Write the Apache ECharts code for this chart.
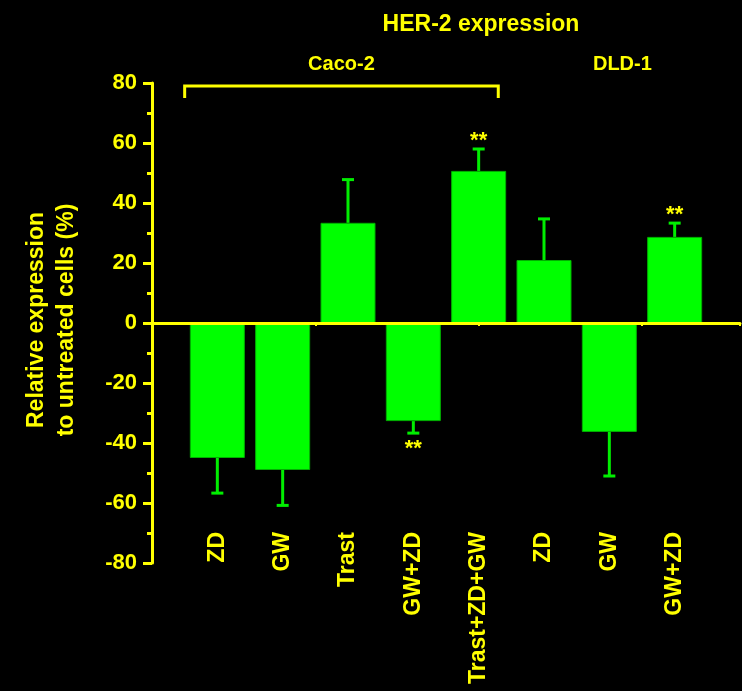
<!DOCTYPE html>
<html>
<head>
<meta charset="utf-8">
<script src="https://cdn.jsdelivr.net/npm/echarts@6/dist/echarts.min.js"></script>
<style>
  html, body { margin: 0; padding: 0; background: #000; }
  #chart { width: 742px; height: 691px; }
</style>
</head>
<body>
<div id="chart"></div>
<script>
// Treatments, in plotting order (Caco-2 first five, DLD-1 last three)
const categories = ['ZD', 'GW', 'Trast', 'GW+ZD', 'Trast+ZD+GW', 'ZD', 'GW', 'GW+ZD'];
// Mean change in HER-2 expression vs untreated cells (%)
const means = [-45, -49, 33.4, -32.7, 50.7, 21, -36.3, 28.7];
// Error bar half-lengths (%)
const errors = [11.7, 11.8, 14.4, 4.0, 7.3, 13.7, 14.7, 4.6];
// Significance markers
const significance = ['', '', '', '**', '**', '', '', '**'];
// Cell line group labels and their x positions on the axis
const cellLines = ['Caco-2', 'DLD-1'];
const cellLineX = [2.9, 7.2];
const cellLineY = 86.3;
// Bracket over the Caco-2 treatments: [x from, x to, y top, y leg end]
const bracket = [0.5, 5.3, 79, 75];

const YELLOW = '#ffff00';
const GREEN = '#00ff00';
const FONT = 'Arial, "Liberation Sans", sans-serif';

const chart = echarts.init(document.getElementById('chart'));

const barData = means.map((v, i) => [i + 1, v]);
const errData = means.map((v, i) => [i + 1, v, errors[i], significance[i]]);

const option = {
  backgroundColor: '#000',
  animation: false,
  title: {
    text: 'HER-2 expression',
    left: 476,
    textAlign: 'center',
    top: 8,
    textStyle: { color: YELLOW, fontSize: 23, fontWeight: 'bold', fontFamily: FONT }
  },
  grid: { left: 152, right: 2, top: 83, bottom: 128 },
  xAxis: [
    {
      type: 'value', min: 0, max: 9, interval: 2.5, z: 10,
      axisLine: { onZero: true, lineStyle: { color: YELLOW, width: 3 } },
      axisTick: { show: true, length: 3, lineStyle: { color: YELLOW, width: 2 } },
      axisLabel: { show: false },
      splitLine: { show: false }
    },
    {
      type: 'value', min: 0, max: 9, interval: 1, position: 'bottom', offset: -31,
      axisLine: { show: false, onZero: false },
      axisTick: { show: false },
      splitLine: { show: false },
      axisLabel: {
        rotate: 90, margin: 0, color: YELLOW, fontSize: 23, fontWeight: 'bold', fontFamily: FONT,
        formatter: v => (v >= 1 && v <= categories.length && Number.isInteger(v)) ? categories[v - 1] : ''
      }
    }
  ],
  yAxis: {
    type: 'value', min: -80, max: 80, interval: 20,
    name: 'Relative expression\nto untreated cells (%)',
    nameLocation: 'middle', nameGap: 70,
    nameTextStyle: {
      color: YELLOW, fontSize: 23, fontWeight: 'bold', fontFamily: FONT,
      lineHeight: 30, padding: [0, 0, 0, 6]
    },
    axisLine: { show: true, onZero: false, lineStyle: { color: YELLOW, width: 3 } },
    axisTick: { show: true, length: 9, lineStyle: { color: YELLOW, width: 3 } },
    minorTick: { show: true, splitNumber: 2, length: 5, lineStyle: { color: YELLOW, width: 3 } },
    axisLabel: { color: YELLOW, fontSize: 22, fontWeight: 'bold', fontFamily: FONT, margin: 15 },
    splitLine: { show: false }
  },
  series: [
    {
      type: 'bar',
      xAxisIndex: 0,
      data: barData,
      barWidth: 55,
      itemStyle: { color: GREEN, borderColor: '#00b000', borderWidth: 1 }
    },
    {
      type: 'custom',
      xAxisIndex: 0,
      data: errData,
      z: 5,
      renderItem: function (params, api) {
        const x = api.value(0);
        const m = api.value(1);
        const e = api.value(2);
        const sig = errData[params.dataIndex][3];
        const end = m >= 0 ? m + e : m - e;
        const p0 = api.coord([x, m]);
        const p1 = api.coord([x, end]);
        const half = 6;
        const style = { stroke: '#00ee00', lineWidth: 3 };
        const children = [
          { type: 'line', shape: { x1: p0[0], y1: p0[1], x2: p1[0], y2: p1[1] }, style: style },
          { type: 'line', shape: { x1: p1[0] - half, y1: p1[1], x2: p1[0] + half, y2: p1[1] }, style: style }
        ];
        if (sig) {
          children.push({
            type: 'text',
            style: {
              text: sig, x: p1[0], y: m >= 0 ? p1[1] - 8 : p1[1] + 16,
              align: 'center', verticalAlign: 'middle',
              fill: YELLOW, font: 'bold 22px ' + FONT
            }
          });
        }
        return { type: 'group', children: children };
      }
    }
  ]
};

chart.setOption(option);

// Cell line labels and the bracket grouping the Caco-2 treatments
const px = (x, y) => chart.convertToPixel({ gridIndex: 0 }, [x, y]);
const graphics = [];
const b0 = px(bracket[0], bracket[2]);
const b1 = px(bracket[1], bracket[2]);
const leg = px(bracket[0], bracket[3]);
graphics.push({
  type: 'polyline',
  shape: { points: [[b0[0], leg[1]], [b0[0], b0[1]], [b1[0], b1[1]], [b1[0], leg[1]]] },
  style: { stroke: YELLOW, lineWidth: 3, fill: null }
});
cellLines.forEach((name, i) => {
  const p = px(cellLineX[i], cellLineY);
  graphics.push({
    type: 'text', x: p[0], y: p[1],
    style: { text: name, align: 'center', verticalAlign: 'middle', fill: YELLOW, font: 'bold 20px ' + FONT }
  });
});
chart.setOption({ graphic: graphics });
</script>
</body>
</html>
